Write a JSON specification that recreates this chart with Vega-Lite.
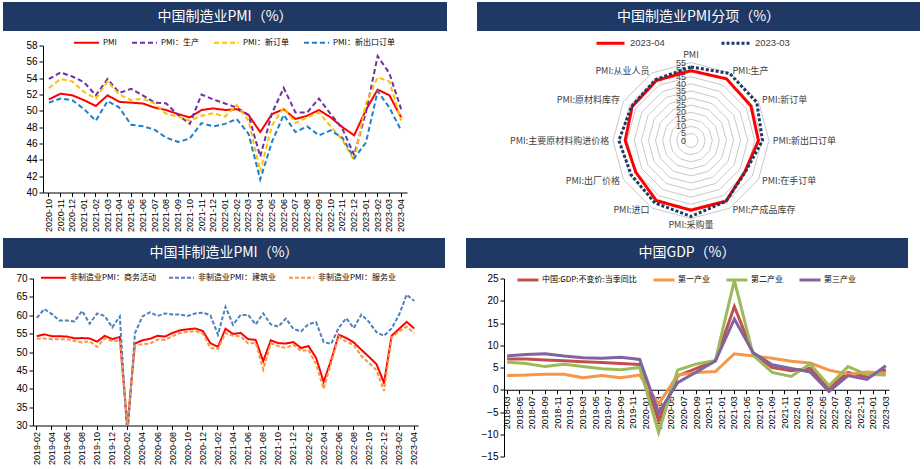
{
"$schema": "https://vega.github.io/schema/vega-lite/v6.json",
"background": "white",
"padding": {"left": 3, "top": 2, "right": 0, "bottom": 0},
"config": {
  "view": {"stroke": null},
  "font": "Liberation Sans",
  "axis": {"labelFont": "Liberation Sans", "labelColor": "#000", "domainColor": "#000", "tickColor": "#000", "labelFontSize": 10, "grid": false, "tickSize": 4, "labelPadding": 2},
  "legend": {"labelFont": "Noto Sans CJK SC", "labelFontSize": 8, "labelColor": "#000", "symbolType": "stroke"}
},
"datasets": {
  "pmi": [
    {"m":"2020-10","PMI":51.4,"PMI：生产":53.9,"PMI：新订单":52.8,"PMI：新出口订单":51.0},
    {"m":"2020-11","PMI":52.1,"PMI：生产":54.7,"PMI：新订单":53.9,"PMI：新出口订单":51.5},
    {"m":"2020-12","PMI":51.9,"PMI：生产":54.2,"PMI：新订单":53.6,"PMI：新出口订单":51.3},
    {"m":"2021-01","PMI":51.3,"PMI：生产":53.5,"PMI：新订单":52.3,"PMI：新出口订单":50.2},
    {"m":"2021-02","PMI":50.6,"PMI：生产":51.9,"PMI：新订单":51.5,"PMI：新出口订单":48.8},
    {"m":"2021-03","PMI":51.9,"PMI：生产":53.9,"PMI：新订单":53.6,"PMI：新出口订单":51.2},
    {"m":"2021-04","PMI":51.1,"PMI：生产":52.2,"PMI：新订单":52.0,"PMI：新出口订单":50.4},
    {"m":"2021-05","PMI":51.0,"PMI：生产":52.7,"PMI：新订单":51.3,"PMI：新出口订单":48.3},
    {"m":"2021-06","PMI":50.9,"PMI：生产":51.9,"PMI：新订单":51.5,"PMI：新出口订单":48.1},
    {"m":"2021-07","PMI":50.4,"PMI：生产":51.0,"PMI：新订单":50.9,"PMI：新出口订单":47.7},
    {"m":"2021-08","PMI":50.1,"PMI：生产":50.9,"PMI：新订单":49.6,"PMI：新出口订单":46.7},
    {"m":"2021-09","PMI":49.6,"PMI：生产":49.5,"PMI：新订单":49.3,"PMI：新出口订单":46.2},
    {"m":"2021-10","PMI":49.2,"PMI：生产":48.4,"PMI：新订单":48.8,"PMI：新出口订单":46.6},
    {"m":"2021-11","PMI":50.1,"PMI：生产":52.0,"PMI：新订单":49.4,"PMI：新出口订单":48.5},
    {"m":"2021-12","PMI":50.3,"PMI：生产":51.4,"PMI：新订单":49.7,"PMI：新出口订单":48.1},
    {"m":"2022-01","PMI":50.1,"PMI：生产":50.9,"PMI：新订单":49.3,"PMI：新出口订单":48.4},
    {"m":"2022-02","PMI":50.2,"PMI：生产":50.4,"PMI：新订单":50.7,"PMI：新出口订单":49.0},
    {"m":"2022-03","PMI":49.5,"PMI：生产":49.5,"PMI：新订单":48.8,"PMI：新出口订单":47.2},
    {"m":"2022-04","PMI":47.4,"PMI：生产":44.4,"PMI：新订单":42.6,"PMI：新出口订单":41.6},
    {"m":"2022-05","PMI":49.6,"PMI：生产":49.7,"PMI：新订单":48.2,"PMI：新出口订单":46.2},
    {"m":"2022-06","PMI":50.2,"PMI：生产":52.8,"PMI：新订单":50.4,"PMI：新出口订单":49.5},
    {"m":"2022-07","PMI":49.0,"PMI：生产":49.8,"PMI：新订单":48.5,"PMI：新出口订单":47.4},
    {"m":"2022-08","PMI":49.4,"PMI：生产":49.8,"PMI：新订单":49.2,"PMI：新出口订单":48.1},
    {"m":"2022-09","PMI":50.1,"PMI：生产":51.5,"PMI：新订单":49.8,"PMI：新出口订单":47.0},
    {"m":"2022-10","PMI":49.2,"PMI：生产":49.6,"PMI：新订单":48.1,"PMI：新出口订单":47.6},
    {"m":"2022-11","PMI":48.0,"PMI：生产":47.8,"PMI：新订单":46.4,"PMI：新出口订单":46.7},
    {"m":"2022-12","PMI":47.0,"PMI：生产":44.6,"PMI：新订单":43.9,"PMI：新出口订单":44.2},
    {"m":"2023-01","PMI":50.1,"PMI：生产":49.8,"PMI：新订单":50.9,"PMI：新出口订单":46.1},
    {"m":"2023-02","PMI":52.6,"PMI：生产":56.7,"PMI：新订单":54.1,"PMI：新出口订单":52.4},
    {"m":"2023-03","PMI":51.9,"PMI：生产":54.6,"PMI：新订单":53.6,"PMI：新出口订单":50.4},
    {"m":"2023-04","PMI":49.2,"PMI：生产":50.2,"PMI：新订单":48.8,"PMI：新出口订单":47.6}
  ],
  "radar": [
    {"cat":"PMI","idx":0,"2023-04":49.2,"2023-03":51.9},
    {"cat":"PMI:生产","idx":1,"2023-04":50.2,"2023-03":54.6},
    {"cat":"PMI:新订单","idx":2,"2023-04":48.8,"2023-03":53.6},
    {"cat":"PMI:新出口订单","idx":3,"2023-04":47.6,"2023-03":50.4},
    {"cat":"PMI:在手订单","idx":4,"2023-04":43.9,"2023-03":44.3},
    {"cat":"PMI:产成品库存","idx":5,"2023-04":49.4,"2023-03":49.5},
    {"cat":"PMI:采购量","idx":6,"2023-04":49.1,"2023-03":53.5},
    {"cat":"PMI:进口","idx":7,"2023-04":48.9,"2023-03":50.9},
    {"cat":"PMI:出厂价格","idx":8,"2023-04":44.9,"2023-03":48.6},
    {"cat":"PMI:主要原材料购进价格","idx":9,"2023-04":46.4,"2023-03":50.9},
    {"cat":"PMI:原材料库存","idx":10,"2023-04":47.9,"2023-03":48.3},
    {"cat":"PMI:从业人员","idx":11,"2023-04":48.8,"2023-03":49.7}
  ],
  "grid": [
    {"level":0,"k":[0,1,2,3,4,5,6,7,8,9,10,11]},
    {"level":5,"k":[0,1,2,3,4,5,6,7,8,9,10,11]},
    {"level":10,"k":[0,1,2,3,4,5,6,7,8,9,10,11]},
    {"level":15,"k":[0,1,2,3,4,5,6,7,8,9,10,11]},
    {"level":20,"k":[0,1,2,3,4,5,6,7,8,9,10,11]},
    {"level":25,"k":[0,1,2,3,4,5,6,7,8,9,10,11]},
    {"level":30,"k":[0,1,2,3,4,5,6,7,8,9,10,11]},
    {"level":35,"k":[0,1,2,3,4,5,6,7,8,9,10,11]},
    {"level":40,"k":[0,1,2,3,4,5,6,7,8,9,10,11]},
    {"level":45,"k":[0,1,2,3,4,5,6,7,8,9,10,11]},
    {"level":50,"k":[0,1,2,3,4,5,6,7,8,9,10,11]},
    {"level":55,"k":[0,1,2,3,4,5,6,7,8,9,10,11]}
  ],
  "nonmfg": [
    {"m":"2019-02","非制造业PMI：商务活动":54.3,"非制造业PMI：建筑业":59.3,"非制造业PMI：服务业":53.6},
    {"m":"2019-03","非制造业PMI：商务活动":54.8,"非制造业PMI：建筑业":61.7,"非制造业PMI：服务业":53.7},
    {"m":"2019-04","非制造业PMI：商务活动":54.3,"非制造业PMI：建筑业":60.3,"非制造业PMI：服务业":53.5},
    {"m":"2019-05","非制造业PMI：商务活动":54.3,"非制造业PMI：建筑业":58.6,"非制造业PMI：服务业":53.5},
    {"m":"2019-06","非制造业PMI：商务活动":54.2,"非制造业PMI：建筑业":58.6,"非制造业PMI：服务业":53.5},
    {"m":"2019-07","非制造业PMI：商务活动":53.7,"非制造业PMI：建筑业":58.3,"非制造业PMI：服务业":53.0},
    {"m":"2019-08","非制造业PMI：商务活动":53.8,"非制造业PMI：建筑业":61.2,"非制造业PMI：服务业":52.6},
    {"m":"2019-09","非制造业PMI：商务活动":53.7,"非制造业PMI：建筑业":57.7,"非制造业PMI：服务业":52.9},
    {"m":"2019-10","非制造业PMI：商务活动":52.8,"非制造业PMI：建筑业":60.5,"非制造业PMI：服务业":51.4},
    {"m":"2019-11","非制造业PMI：商务活动":54.4,"非制造业PMI：建筑业":59.8,"非制造业PMI：服务业":53.7},
    {"m":"2019-12","非制造业PMI：商务活动":53.5,"非制造业PMI：建筑业":56.7,"非制造业PMI：服务业":53.0},
    {"m":"2020-01","非制造业PMI：商务活动":54.1,"非制造业PMI：建筑业":59.7,"非制造业PMI：服务业":53.1},
    {"m":"2020-02","非制造业PMI：商务活动":29.6,"非制造业PMI：建筑业":26.6,"非制造业PMI：服务业":30.1},
    {"m":"2020-03","非制造业PMI：商务活动":52.3,"非制造业PMI：建筑业":55.1,"非制造业PMI：服务业":51.8},
    {"m":"2020-04","非制造业PMI：商务活动":53.2,"非制造业PMI：建筑业":59.7,"非制造业PMI：服务业":52.1},
    {"m":"2020-05","非制造业PMI：商务活动":53.6,"非制造业PMI：建筑业":60.8,"非制造业PMI：服务业":52.3},
    {"m":"2020-06","非制造业PMI：商务活动":54.4,"非制造业PMI：建筑业":59.8,"非制造业PMI：服务业":53.4},
    {"m":"2020-07","非制造业PMI：商务活动":54.2,"非制造业PMI：建筑业":60.5,"非制造业PMI：服务业":53.3},
    {"m":"2020-08","非制造业PMI：商务活动":55.2,"非制造业PMI：建筑业":60.2,"非制造业PMI：服务业":54.3},
    {"m":"2020-09","非制造业PMI：商务活动":55.9,"非制造业PMI：建筑业":60.2,"非制造业PMI：服务业":55.2},
    {"m":"2020-10","非制造业PMI：商务活动":56.2,"非制造业PMI：建筑业":59.8,"非制造业PMI：服务业":55.5},
    {"m":"2020-11","非制造业PMI：商务活动":56.4,"非制造业PMI：建筑业":60.5,"非制造业PMI：服务业":55.7},
    {"m":"2020-12","非制造业PMI：商务活动":55.7,"非制造业PMI：建筑业":60.7,"非制造业PMI：服务业":55.0},
    {"m":"2021-01","非制造业PMI：商务活动":52.4,"非制造业PMI：建筑业":60.0,"非制造业PMI：服务业":51.1},
    {"m":"2021-02","非制造业PMI：商务活动":51.4,"非制造业PMI：建筑业":54.7,"非制造业PMI：服务业":50.8},
    {"m":"2021-03","非制造业PMI：商务活动":56.3,"非制造业PMI：建筑业":62.3,"非制造业PMI：服务业":55.2},
    {"m":"2021-04","非制造业PMI：商务活动":54.9,"非制造业PMI：建筑业":57.4,"非制造业PMI：服务业":54.4},
    {"m":"2021-05","非制造业PMI：商务活动":55.2,"非制造业PMI：建筑业":60.1,"非制造业PMI：服务业":54.3},
    {"m":"2021-06","非制造业PMI：商务活动":53.5,"非制造业PMI：建筑业":60.1,"非制造业PMI：服务业":52.3},
    {"m":"2021-07","非制造业PMI：商务活动":53.3,"非制造业PMI：建筑业":57.5,"非制造业PMI：服务业":52.5},
    {"m":"2021-08","非制造业PMI：商务活动":47.5,"非制造业PMI：建筑业":60.5,"非制造业PMI：服务业":45.2},
    {"m":"2021-09","非制造业PMI：商务活动":53.2,"非制造业PMI：建筑业":57.5,"非制造业PMI：服务业":52.4},
    {"m":"2021-10","非制造业PMI：商务活动":52.4,"非制造业PMI：建筑业":56.9,"非制造业PMI：服务业":51.6},
    {"m":"2021-11","非制造业PMI：商务活动":52.3,"非制造业PMI：建筑业":59.1,"非制造业PMI：服务业":51.1},
    {"m":"2021-12","非制造业PMI：商务活动":52.7,"非制造业PMI：建筑业":56.3,"非制造业PMI：服务业":52.0},
    {"m":"2022-01","非制造业PMI：商务活动":51.1,"非制造业PMI：建筑业":55.6,"非制造业PMI：服务业":50.3},
    {"m":"2022-02","非制造业PMI：商务活动":51.6,"非制造业PMI：建筑业":57.6,"非制造业PMI：服务业":50.5},
    {"m":"2022-03","非制造业PMI：商务活动":48.4,"非制造业PMI：建筑业":58.1,"非制造业PMI：服务业":46.7},
    {"m":"2022-04","非制造业PMI：商务活动":41.9,"非制造业PMI：建筑业":52.7,"非制造业PMI：服务业":40.0},
    {"m":"2022-05","非制造业PMI：商务活动":47.8,"非制造业PMI：建筑业":52.2,"非制造业PMI：服务业":47.1},
    {"m":"2022-06","非制造业PMI：商务活动":54.7,"非制造业PMI：建筑业":56.6,"非制造业PMI：服务业":54.3},
    {"m":"2022-07","非制造业PMI：商务活动":53.8,"非制造业PMI：建筑业":59.2,"非制造业PMI：服务业":52.8},
    {"m":"2022-08","非制造业PMI：商务活动":52.6,"非制造业PMI：建筑业":56.5,"非制造业PMI：服务业":51.9},
    {"m":"2022-09","非制造业PMI：商务活动":50.6,"非制造业PMI：建筑业":60.2,"非制造业PMI：服务业":48.9},
    {"m":"2022-10","非制造业PMI：商务活动":48.7,"非制造业PMI：建筑业":58.2,"非制造业PMI：服务业":47.0},
    {"m":"2022-11","非制造业PMI：商务活动":46.7,"非制造业PMI：建筑业":55.4,"非制造业PMI：服务业":45.1},
    {"m":"2022-12","非制造业PMI：商务活动":41.6,"非制造业PMI：建筑业":54.4,"非制造业PMI：服务业":39.4},
    {"m":"2023-01","非制造业PMI：商务活动":54.4,"非制造业PMI：建筑业":56.4,"非制造业PMI：服务业":54.0},
    {"m":"2023-02","非制造业PMI：商务活动":56.3,"非制造业PMI：建筑业":60.2,"非制造业PMI：服务业":55.6},
    {"m":"2023-03","非制造业PMI：商务活动":58.2,"非制造业PMI：建筑业":65.6,"非制造业PMI：服务业":56.9},
    {"m":"2023-04","非制造业PMI：商务活动":56.4,"非制造业PMI：建筑业":63.9,"非制造业PMI：服务业":55.1}
  ],
  "gdp": [
    {"m":"2018-03","中国:GDP:不变价:当季同比":6.9,"第一产业":3.2,"第二产业":6.2,"第三产业":7.6},
    {"m":"2018-06","中国:GDP:不变价:当季同比":6.9,"第一产业":3.3,"第二产业":5.9,"第三产业":7.9},
    {"m":"2018-09","中国:GDP:不变价:当季同比":6.7,"第一产业":3.5,"第二产业":5.2,"第三产业":8.1},
    {"m":"2018-12","中国:GDP:不变价:当季同比":6.5,"第一产业":3.5,"第二产业":5.7,"第三产业":7.6},
    {"m":"2019-03","中国:GDP:不变价:当季同比":6.3,"第一产业":2.7,"第二产业":5.2,"第三产业":7.2},
    {"m":"2019-06","中国:GDP:不变价:当季同比":6.1,"第一产业":3.2,"第二产业":4.7,"第三产业":7.1},
    {"m":"2019-09","中国:GDP:不变价:当季同比":5.9,"第一产业":2.7,"第二产业":4.5,"第三产业":7.3},
    {"m":"2019-12","中国:GDP:不变价:当季同比":5.7,"第一产业":3.3,"第二产业":5.0,"第三产业":6.8},
    {"m":"2020-03","中国:GDP:不变价:当季同比":-6.9,"第一产业":-3.2,"第二产业":-9.6,"第三产业":-5.2},
    {"m":"2020-06","中国:GDP:不变价:当季同比":3.1,"第一产业":3.3,"第二产业":4.4,"第三产业":1.6},
    {"m":"2020-09","中国:GDP:不变价:当季同比":4.8,"第一产业":3.9,"第二产业":5.8,"第三产业":4.0},
    {"m":"2020-12","中国:GDP:不变价:当季同比":6.5,"第一产业":4.1,"第二产业":6.6,"第三产业":6.5},
    {"m":"2021-03","中国:GDP:不变价:当季同比":18.7,"第一产业":8.1,"第二产业":24.6,"第三产业":15.9},
    {"m":"2021-06","中国:GDP:不变价:当季同比":8.0,"第一产业":7.6,"第二产业":7.7,"第三产业":8.3},
    {"m":"2021-09","中国:GDP:不变价:当季同比":5.0,"第一产业":7.1,"第二产业":3.9,"第三产业":5.6},
    {"m":"2021-12","中国:GDP:不变价:当季同比":4.3,"第一产业":6.4,"第二产业":3.0,"第三产业":4.8},
    {"m":"2022-03","中国:GDP:不变价:当季同比":4.8,"第一产业":6.0,"第二产业":5.8,"第三产业":4.0},
    {"m":"2022-06","中国:GDP:不变价:当季同比":0.4,"第一产业":4.4,"第二产业":0.9,"第三产业":-0.4},
    {"m":"2022-09","中国:GDP:不变价:当季同比":3.9,"第一产业":3.5,"第二产业":5.2,"第三产业":3.2},
    {"m":"2022-12","中国:GDP:不变价:当季同比":2.9,"第一产业":4.0,"第二产业":3.4,"第三产业":2.3},
    {"m":"2023-03","中国:GDP:不变价:当季同比":4.5,"第一产业":3.7,"第二产业":3.3,"第三产业":5.4}
  ]
},
"spacing": 5,
"resolve": {"scale": {"color": "independent", "strokeDash": "independent", "x": "independent", "y": "independent"}, "legend": {"color": "independent", "strokeDash": "independent"}},
"vconcat": [
  {
    "spacing": -3.5,
    "resolve": {"scale": {"color": "independent", "strokeDash": "independent", "x": "independent", "y": "independent"}, "legend": {"color": "independent", "strokeDash": "independent"}},
    "vconcat": [
      {
        "spacing": 30,
        "hconcat": [
          {
            "width": 444, "height": 29,
            "view": {"fill": "#1F3864", "stroke": null},
            "data": {"values": [{"t": "中国制造业PMI（%）"}]},
            "mark": {"type": "text", "color": "#FFFFFF", "font": "Noto Sans CJK SC", "fontSize": 14},
            "encoding": {"text": {"field": "t", "type": "nominal"}}
          },
          {
            "width": 443, "height": 29,
            "view": {"fill": "#1F3864", "stroke": null},
            "data": {"values": [{"t": "中国制造业PMI分项（%）"}]},
            "mark": {"type": "text", "color": "#FFFFFF", "font": "Noto Sans CJK SC", "fontSize": 14},
            "encoding": {"text": {"field": "t", "type": "nominal"}}
          }
        ]
      },
      {
        "spacing": 70,
        "resolve": {"scale": {"color": "independent", "strokeDash": "independent", "x": "independent", "y": "independent"}, "legend": {"color": "independent", "strokeDash": "independent"}},
        "hconcat": [
          {
            "width": 404, "height": 147,
            "data": {"name": "pmi"},
            "transform": [{"fold": ["PMI", "PMI：生产", "PMI：新订单", "PMI：新出口订单"], "as": ["s", "v"]}],
            "mark": {"type": "line", "strokeWidth": 2},
            "encoding": {
              "x": {"field": "m", "type": "ordinal", "bandPosition": 0.5,
                    "scale": {"type": "band", "paddingInner": 0, "paddingOuter": 0, "range": [40, 404]},
                    "axis": {"title": null, "labelAngle": 270, "labelFontSize": 9}},
              "y": {"field": "v", "type": "quantitative",
                    "scale": {"domain": [40, 58], "nice": false, "zero": false},
                    "axis": {"title": null, "values": [40, 42, 44, 46, 48, 50, 52, 54, 56, 58], "offset": -40}},
              "color": {"field": "s", "type": "nominal",
                        "scale": {"domain": ["PMI", "PMI：生产", "PMI：新订单", "PMI：新出口订单"], "range": ["#FF0000", "#7030A0", "#FFC000", "#1F7FC8"]},
                        "legend": {"title": null, "orient": "none", "legendX": 70, "legendY": -16.5, "direction": "horizontal", "symbolSize": 625, "symbolStrokeWidth": 2, "columnPadding": 11, "labelOffset": 3}},
              "strokeDash": {"field": "s", "type": "nominal",
                        "scale": {"domain": ["PMI", "PMI：生产", "PMI：新订单", "PMI：新出口订单"], "range": [[1, 0], [5, 3], [5, 3], [5, 3]]},
                        "legend": {"title": null, "orient": "none", "legendX": 70, "legendY": -16.5, "direction": "horizontal", "symbolSize": 625, "symbolStrokeWidth": 2, "columnPadding": 11, "labelOffset": 3}}
            }
          },
          {
            "width": 443, "height": 187,
            "layer": [
              {
                "data": {"name": "grid"},
                "transform": [
                  {"filter": "datum.level > 0"},
                  {"flatten": ["k"]},
                  {"calculate": "datum.level * sin(datum.k * PI / 6)", "as": "x"},
                  {"calculate": "datum.level * cos(datum.k * PI / 6)", "as": "y"}
                ],
                "mark": {"type": "line", "interpolate": "linear-closed", "color": "#C8C8C8", "strokeWidth": 1},
                "encoding": {
                  "x": {"field": "x", "type": "quantitative", "scale": {"domain": [-150.9, 161.5], "nice": false, "zero": false}, "axis": null},
                  "y": {"field": "y", "type": "quantitative", "scale": {"domain": [-64.88, 67.0], "nice": false, "zero": false}, "axis": null},
                  "detail": {"field": "level", "type": "nominal"},
                  "order": {"field": "k", "type": "quantitative"}
                }
              },
              {
                "data": {"name": "grid"},
                "mark": {"type": "text", "align": "right", "baseline": "middle", "dx": -5, "fontSize": 9, "color": "#404040", "font": "Liberation Sans"},
                "encoding": {
                  "x": {"datum": 0, "type": "quantitative", "scale": {"domain": [-150.9, 161.5], "nice": false, "zero": false}, "axis": null},
                  "y": {"field": "level", "type": "quantitative", "scale": {"domain": [-64.88, 67.0], "nice": false, "zero": false}, "axis": null},
                  "text": {"field": "level", "type": "quantitative"}
                }
              },
              {
                "data": {"name": "radar"},
                "transform": [
                  {"fold": ["2023-04", "2023-03"], "as": ["s", "v"]},
                  {"calculate": "datum.v * sin(datum.idx * PI / 6)", "as": "x"},
                  {"calculate": "datum.v * cos(datum.idx * PI / 6)", "as": "y"}
                ],
                "mark": {"type": "line", "interpolate": "linear-closed", "strokeWidth": 3},
                "encoding": {
                  "x": {"field": "x", "type": "quantitative", "scale": {"domain": [-150.9, 161.5], "nice": false, "zero": false}, "axis": null},
                  "y": {"field": "y", "type": "quantitative", "scale": {"domain": [-64.88, 67.0], "nice": false, "zero": false}, "axis": null},
                  "order": {"field": "idx", "type": "quantitative"},
                  "color": {"field": "s", "type": "nominal",
                            "scale": {"domain": ["2023-04", "2023-03"], "range": ["#FF0000", "#1F3864"]},
                            "legend": {"title": null, "orient": "none", "legendX": 118, "legendY": -18, "direction": "horizontal", "symbolSize": 784, "symbolStrokeWidth": 3, "columnPadding": 50, "labelOffset": 4, "labelFont": "Liberation Sans", "labelFontSize": 9.5, "labelColor": "#404040"}},
                  "strokeDash": {"field": "s", "type": "nominal",
                            "scale": {"domain": ["2023-04", "2023-03"], "range": [[1, 0], [3, 2]]},
                            "legend": {"title": null, "orient": "none", "legendX": 118, "legendY": -18, "direction": "horizontal", "symbolSize": 784, "symbolStrokeWidth": 3, "columnPadding": 50, "labelOffset": 4, "labelFont": "Liberation Sans", "labelFontSize": 9.5, "labelColor": "#404040"}}
                }
              },
              {
                "data": {"name": "radar"},
                "transform": [
                  {"calculate": "57 * sin(datum.idx * PI / 6)", "as": "x"},
                  {"calculate": "57 * cos(datum.idx * PI / 6)", "as": "y"}
                ],
                "encoding": {
                  "x": {"field": "x", "type": "quantitative", "scale": {"domain": [-150.9, 161.5], "nice": false, "zero": false}, "axis": null},
                  "y": {"field": "y", "type": "quantitative", "scale": {"domain": [-64.88, 67.0], "nice": false, "zero": false}, "axis": null},
                  "text": {"field": "cat", "type": "nominal"}
                },
                "layer": [
                  {"transform": [{"filter": "datum.idx >= 1 && datum.idx <= 5"}],
                   "mark": {"type": "text", "align": "left", "baseline": "middle", "dx": 1, "fontSize": 9, "font": "Noto Sans CJK SC", "color": "#404040"}},
                  {"transform": [{"filter": "datum.idx >= 7"}],
                   "mark": {"type": "text", "align": "right", "baseline": "middle", "dx": -1, "fontSize": 9, "font": "Noto Sans CJK SC", "color": "#404040"}},
                  {"transform": [{"filter": "datum.idx == 0"}],
                   "mark": {"type": "text", "align": "center", "baseline": "bottom", "fontSize": 9, "font": "Noto Sans CJK SC", "color": "#404040"}},
                  {"transform": [{"filter": "datum.idx == 6"}],
                   "mark": {"type": "text", "align": "center", "baseline": "top", "fontSize": 9, "font": "Noto Sans CJK SC", "color": "#404040"}}
                ]
              }
            ]
          }
        ]
      }
    ]
  },
  {
    "spacing": -4.5,
    "resolve": {"scale": {"color": "independent", "strokeDash": "independent", "x": "independent", "y": "independent"}, "legend": {"color": "independent", "strokeDash": "independent"}},
    "vconcat": [
      {
        "spacing": 21,
        "hconcat": [
          {
            "width": 442, "height": 30,
            "view": {"fill": "#1F3864", "stroke": null},
            "data": {"values": [{"t": "中国非制造业PMI（%）"}]},
            "mark": {"type": "text", "color": "#FFFFFF", "font": "Noto Sans CJK SC", "fontSize": 14},
            "encoding": {"text": {"field": "t", "type": "nominal"}}
          },
          {
            "width": 442, "height": 30,
            "view": {"fill": "#1F3864", "stroke": null},
            "data": {"values": [{"t": "中国GDP（%）"}]},
            "mark": {"type": "text", "color": "#FFFFFF", "font": "Noto Sans CJK SC", "fontSize": 14},
            "encoding": {"text": {"field": "t", "type": "nominal"}}
          }
        ]
      },
      {
        "spacing": 48,
        "resolve": {"scale": {"color": "independent", "strokeDash": "independent", "x": "independent", "y": "independent"}, "legend": {"color": "independent", "strokeDash": "independent"}},
        "hconcat": [
          {
            "width": 415, "height": 147,
            "data": {"name": "nonmfg"},
            "transform": [{"fold": ["非制造业PMI：商务活动", "非制造业PMI：建筑业", "非制造业PMI：服务业"], "as": ["s", "v"]}],
            "mark": {"type": "line", "strokeWidth": 2, "clip": true},
            "encoding": {
              "x": {"field": "m", "type": "ordinal", "bandPosition": 0.5,
                    "scale": {"type": "band", "paddingInner": 0, "paddingOuter": 0, "range": [30, 415]},
                    "axis": {"title": null, "labelAngle": 270, "labelFontSize": 9,
                             "values": ["2019-02","2019-04","2019-06","2019-08","2019-10","2019-12","2020-02","2020-04","2020-06","2020-08","2020-10","2020-12","2021-02","2021-04","2021-06","2021-08","2021-10","2021-12","2022-02","2022-04","2022-06","2022-08","2022-10","2022-12","2023-02","2023-04"]}},
              "y": {"field": "v", "type": "quantitative",
                    "scale": {"domain": [30, 70], "nice": false, "zero": false},
                    "axis": {"title": null, "values": [30, 35, 40, 45, 50, 55, 60, 65, 70], "offset": -30}},
              "color": {"field": "s", "type": "nominal",
                        "scale": {"domain": ["非制造业PMI：商务活动", "非制造业PMI：建筑业", "非制造业PMI：服务业"], "range": ["#FF0000", "#4F81BD", "#F79646"]},
                        "legend": {"title": null, "orient": "none", "legendX": 37, "legendY": -14.5, "direction": "horizontal", "symbolSize": 625, "symbolStrokeWidth": 2, "columnPadding": 9, "labelOffset": 3}},
              "strokeDash": {"field": "s", "type": "nominal",
                        "scale": {"domain": ["非制造业PMI：商务活动", "非制造业PMI：建筑业", "非制造业PMI：服务业"], "range": [[1, 0], [4, 2], [4, 2]]},
                        "legend": {"title": null, "orient": "none", "legendX": 37, "legendY": -14.5, "direction": "horizontal", "symbolSize": 625, "symbolStrokeWidth": 2, "columnPadding": 9, "labelOffset": 3}}
            }
          },
          {
            "width": 422, "height": 178,
            "data": {"name": "gdp"},
            "transform": [{"fold": ["中国:GDP:不变价:当季同比", "第一产业", "第二产业", "第三产业"], "as": ["s", "v"]}],
            "mark": {"type": "line", "strokeWidth": 3},
            "encoding": {
              "x": {"field": "m", "type": "ordinal", "bandPosition": 0.5,
                    "scale": {"type": "band", "paddingInner": 0, "paddingOuter": 0, "range": [37, 422],
                              "domain": ["2018-03","2018-04","2018-05","2018-06","2018-07","2018-08","2018-09","2018-10","2018-11","2018-12","2019-01","2019-02","2019-03","2019-04","2019-05","2019-06","2019-07","2019-08","2019-09","2019-10","2019-11","2019-12","2020-01","2020-02","2020-03","2020-04","2020-05","2020-06","2020-07","2020-08","2020-09","2020-10","2020-11","2020-12","2021-01","2021-02","2021-03","2021-04","2021-05","2021-06","2021-07","2021-08","2021-09","2021-10","2021-11","2021-12","2022-01","2022-02","2022-03","2022-04","2022-05","2022-06","2022-07","2022-08","2022-09","2022-10","2022-11","2022-12","2023-01","2023-02","2023-03"]},
                    "axis": {"title": null, "labelAngle": 270, "labelFontSize": 9, "offset": -66.75,
                             "values": ["2018-03","2018-05","2018-07","2018-09","2018-11","2019-01","2019-03","2019-05","2019-07","2019-09","2019-11","2020-01","2020-03","2020-05","2020-07","2020-09","2020-11","2021-01","2021-03","2021-05","2021-07","2021-09","2021-11","2022-01","2022-03","2022-05","2022-07","2022-09","2022-11","2023-01","2023-03"]}},
              "y": {"field": "v", "type": "quantitative",
                    "scale": {"domain": [-15, 25], "nice": false, "zero": false},
                    "axis": {"title": null, "values": [-15, -10, -5, 0, 5, 10, 15, 20, 25], "offset": -37}},
              "color": {"field": "s", "type": "nominal",
                        "scale": {"domain": ["中国:GDP:不变价:当季同比", "第一产业", "第二产业", "第三产业"], "range": ["#C0504D", "#F79646", "#9BBB59", "#8064A2"]},
                        "legend": {"title": null, "orient": "none", "legendX": 49, "legendY": -10.5, "direction": "horizontal", "symbolSize": 441, "symbolStrokeWidth": 3, "columnPadding": 10, "labelOffset": 2}}
            }
          }
        ]
      }
    ]
  }
]
}
